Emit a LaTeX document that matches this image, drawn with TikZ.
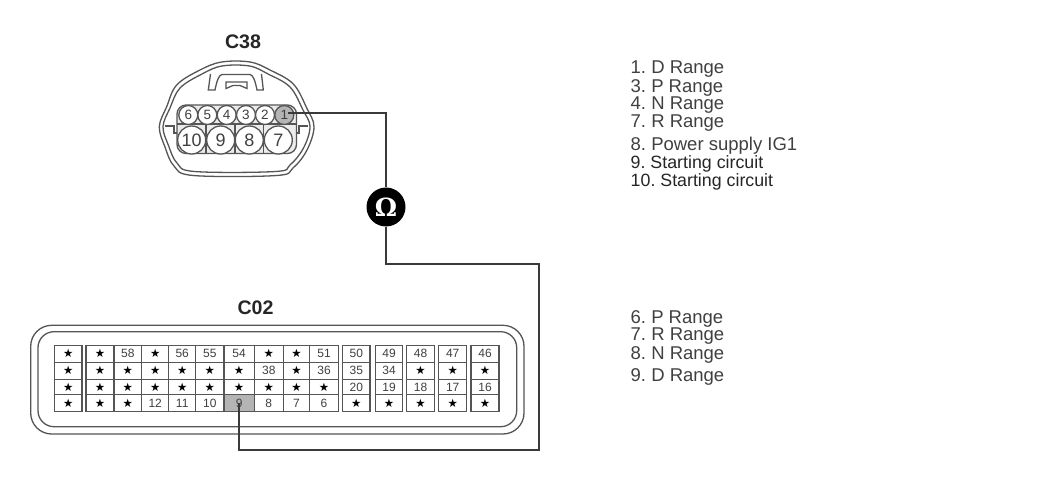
\documentclass[tikz,border=0pt]{standalone}
\usepackage{fontspec}
\setmainfont{Liberation Sans}
\newfontfamily\starfont{DejaVu Sans}
\newfontfamily\omegafont{DejaVu Serif}
\definecolor{txt}{HTML}{404040}
\definecolor{ln}{HTML}{555555}
\definecolor{wire}{HTML}{3A3A3A}
\definecolor{pinfill}{HTML}{B4B4B4}
\newcommand{\st}{{\starfont\fontsize{11.5}{12}\selectfont\color{black}★}}
\tikzset{
  shell/.style={draw=ln,line width=1.3pt},
  cell/.style={draw=ln,line width=1.3pt,fill=white},
  celltext/.style={font=\fontsize{12}{12}\selectfont,text=txt,inner sep=0pt},
  title/.style={font=\bfseries\fontsize{19.6}{20}\selectfont,text=black!85,inner sep=0pt},
  legend/.style={font=\frenchspacing\fontsize{18.5}{20}\selectfont,text=txt,anchor=west,inner sep=0pt},
  legendnarrow/.style={legend,font=\frenchspacing\fontsize{17.8}{20}\selectfont,text=black!85},
  pinbig/.style={circle,draw=ln,line width=1.3pt,fill=white,minimum size=28pt,inner sep=0pt,font=\fontsize{18}{18}\selectfont,text=txt},
  pinsmall/.style={circle,draw=ln,line width=1.3pt,fill=white,minimum size=19pt,inner sep=0pt,font=\fontsize{13.5}{14}\selectfont,text=txt},
  wireline/.style={draw=wire,line width=2.3pt,line join=miter},
}
\begin{document}
\begin{tikzpicture}[x=1pt,y=-1pt]
\useasboundingbox (0,0) rectangle (1050,484);
\fill[white] (0,0) rectangle (1050,484);
% titles
\node[title] (t38) at (243,41.5) {C38};
\node[title] (t02) at (255.5,307.5) {C02};
% C38 shell
\draw[shell] plot[smooth cycle,tension=.6] coordinates {(221.7,62) (250,62) (270,70) (293.3,84) (306.7,108) (314,126.7) (307,150) (293,168) (276.7,175.5) (193.3,175.5) (174,166) (165,147) (159.3,126.7) (166.7,106.7) (176.7,85) (200,70)};
\draw[shell] plot[smooth cycle,tension=.6] coordinates {(222,66) (249.5,66) (268,74) (290,87) (303,110) (310,126.7) (303.5,148) (290,165) (275.5,171.5) (194.5,171.5) (177,163) (168.5,145.5) (163,126.7) (170,108) (180,88) (202,74)};
% latch
\draw[shell] (210.5,74) -- (208.3,90) -- (215,90) .. controls (217,80) and (219,75) .. (222,74.5) -- (250,74.5) .. controls (253,75) and (255,80) .. (257,90) -- (263.3,90) -- (261.5,74);
\draw[shell] (226,88.5) -- (226,82) -- (247,82) -- (247,88.5) -- (240,85.5) -- (233,85.5) -- cycle;
% side notches
\draw[shell] (165,126) -- (174,126) -- (174,133) -- (177,133);
\draw[shell] (308,126) -- (299,126) -- (299,133) -- (296,133);
% pin block
\draw[shell,fill=black!8,rounded corners=9pt] (177,105) rectangle (296.5,153.5);
\foreach \xx in {206,235,263.5}{\draw[shell] (\xx,125) -- (\xx,153.5);}
\draw[shell] (177,124) -- (296.5,124);
\foreach \n/\xx/\lab in {6/188.3/6,5/207.3/5,4/226.7/4,3/246/3,2/265/2}{
  \node[pinsmall] (p\n) at (\xx,115) {\lab};
}
\node[pinsmall,fill=pinfill] (p1) at (284.3,115) {1};
\foreach \n/\xx in {10/191.7,9/220.7,8/249.3,7/278.3}{
  \node[pinbig] (p\n) at (\xx,140) {\n};
}
% C02 shell
\draw[shell,rounded corners=21pt] (30.7,325.3) rectangle (524,434);
\draw[shell,rounded corners=16pt] (38,331.7) rectangle (516.7,426.7);
% C02 grid
\foreach \nm/\xa/\xb/\ta/\tb/\tc/\td in {
  a/54.7/82/\st/\st/\st/\st,
  b/86/114/\st/\st/\st/\st,
  c/114/141.7/58/\st/\st/\st,
  d/141.7/168.7/\st/\st/\st/12,
  e/168.7/195.7/56/\st/\st/11,
  f/195.7/224/55/\st/\st/10,
  g/224/254.3/54/\st/\st/{},
  h/254.3/283.3/\st/38/\st/8,
  i/283.3/309.7/\st/\st/\st/7,
  j/309.7/338.3/51/36/\st/6,
  k/342.7/370/50/35/20/\st,
  l/375.3/402.7/49/34/19/\st,
  m/406.7/434.3/48/\st/18/\st,
  n/438.7/466.7/47/\st/17/\st,
  o/471/499/46/\st/16/\st}{
  \draw[cell] (\xa,345.3) rectangle (\xb,362.2);
  \draw[cell] (\xa,362.2) rectangle (\xb,379.3);
  \draw[cell] (\xa,379.3) rectangle (\xb,394.7);
  \draw[cell] (\xa,394.7) rectangle (\xb,411.3);
  \node[celltext] (\nm1) at ({(\xa+\xb)/2},353.8) {\ta};
  \node[celltext] (\nm2) at ({(\xa+\xb)/2},370.8) {\tb};
  \node[celltext] (\nm3) at ({(\xa+\xb)/2},387) {\tc};
  \node[celltext] (\nm4) at ({(\xa+\xb)/2},403) {\td};
}
\draw[cell,fill=pinfill] (224,394.7) rectangle (254.3,411.3);
\node[celltext] (pin9) at (239.15,403) {9};
% meter and wires
\node[circle,fill=black,minimum size=39pt,inner sep=0pt,text=white,font=\omegafont\bfseries\fontsize{25}{25}\selectfont] (ohm) at (386,207) {Ω};
\coordinate (w0) at (288,113.3);
\coordinate (w1) at (386,113.3);
\coordinate (w2) at (386,264);
\coordinate (w3) at (539,264);
\coordinate (w4) at (539,450);
\coordinate (w5) at (239.15,450);
\draw[wireline] (w0) -- (w1) -- (ohm);
\draw[wireline] (ohm) -- (w2) -- (w3) -- (w4) -- (w5) -- (pin9.center);
% legends
\node[legend] (l1) at (630.5,69.5) {1. D Range};
\node[legend] (l2) at (630.5,87.5) {3. P Range};
\node[legend] (l3) at (630.5,105.5) {4. N Range};
\node[legend] (l4) at (630.5,123.5) {7. R Range};
\node[legend] (l5) at (630.5,145.5) {8. Power supply IG1};
\node[legendnarrow] (l6) at (630.5,163.5) {9. Starting circuit};
\node[legendnarrow] (l7) at (630.5,181.5) {10. Starting circuit};
\node[legend] (l8) at (630.5,318.5) {6. P Range};
\node[legend] (l9) at (630.5,336.5) {7. R Range};
\node[legend] (l10) at (630.5,354.5) {8. N Range};
\node[legend] (l11) at (630.5,376.5) {9. D Range};
\end{tikzpicture}
\end{document}
